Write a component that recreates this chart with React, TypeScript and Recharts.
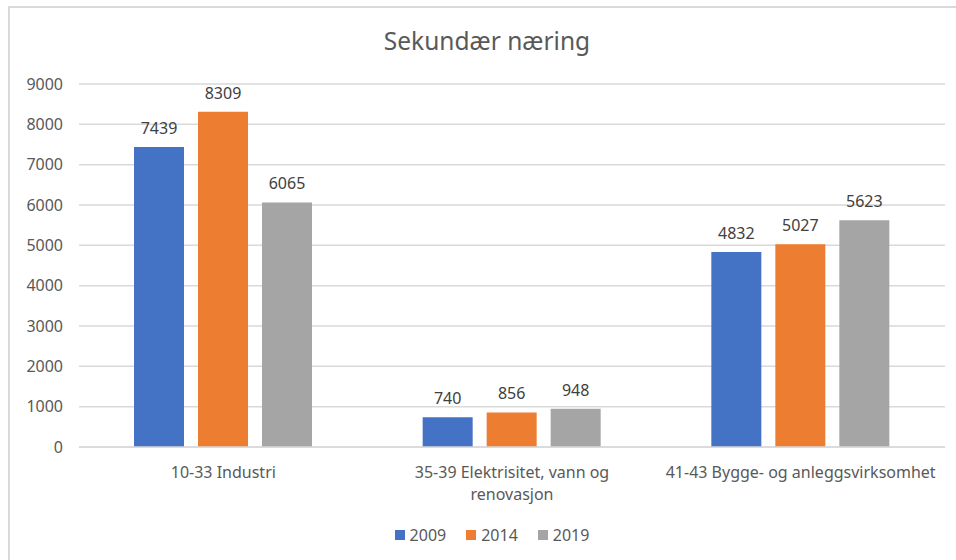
import { BarChart, Bar, XAxis, YAxis, CartesianGrid, LabelList } from 'recharts';

const categories = ['10-33 Industri', '35-39 Elektrisitet, vann og\nrenovasjon', '41-43 Bygge- og anleggsvirksomhet'];
const values2009 = [7439, 740, 4832];
const values2014 = [8309, 856, 5027];
const values2019 = [6065, 948, 5623];
const yTicks = [0, 1000, 2000, 3000, 4000, 5000, 6000, 7000, 8000, 9000];

const seriesList = [
  { key: 'y2009', name: '2009', color: '#4472C4' },
  { key: 'y2014', name: '2014', color: '#ED7D31' },
  { key: 'y2019', name: '2019', color: '#A5A5A5' },
];

const data = categories.map((category, i) => ({
  category,
  y2009: values2009[i],
  y2014: values2014[i],
  y2019: values2019[i],
}));

const FONT = '"Noto Sans", sans-serif';
const TEXT = '#595959';

const CategoryTick = ({ x, y, payload }: { x?: number; y?: number; payload?: { value: string } }) => {
  const lines = String(payload?.value ?? '').split('\n');
  return (
    <text x={x} y={y} textAnchor="middle" fill={TEXT} fontSize={16} fontFamily={FONT}>
      {lines.map((line, i) => (
        <tspan key={i} x={x} dy={i === 0 ? 23 : 22}>
          {line}
        </tspan>
      ))}
    </text>
  );
};

export default function App() {
  return (
    <div style={{ position: 'absolute', left: 0, top: 0, width: 956, height: 560, background: '#fff', fontFamily: FONT }}>
      <div
        style={{
          position: 'absolute',
          left: 8,
          top: 6,
          width: 960,
          height: 570,
          borderLeft: '2px solid #d9d9d9',
          borderTop: '2px solid #d9d9d9',
        }}
      />
      <div
        style={{
          position: 'absolute',
          top: 24,
          left: 0,
          width: 974,
          textAlign: 'center',
          fontSize: 24.5,
          color: TEXT,
        }}
      >
        Sekundær næring
      </div>
      <div style={{ position: 'absolute', left: 0, top: 0 }}>
        <BarChart
          width={956}
          height={520}
          data={data}
          margin={{ top: 84, right: 11, left: 0, bottom: 0 }}
          barSize={50}
          barGap={14}
        >
          <CartesianGrid vertical={false} stroke="#d9d9d9" strokeWidth={1.5} />
          <XAxis
            dataKey="category"
            axisLine={{ stroke: '#d9d9d9', strokeWidth: 1.5 }}
            tickLine={false}
            height={73}
            interval={0}
            tick={<CategoryTick />}
          />
          <YAxis
            domain={[0, 9000]}
            ticks={yTicks}
            axisLine={false}
            tickLine={false}
            tickSize={0}
            tickMargin={16}
            width={79}
            tick={{ fill: TEXT, fontSize: 16, fontFamily: FONT }}
          />
          {seriesList.map((s) => (
            <Bar key={s.key} dataKey={s.key} name={s.name} fill={s.color} isAnimationActive={false}>
              <LabelList dataKey={s.key} position="top" offset={13} fill="#404040" fontSize={16} fontFamily={FONT} />
            </Bar>
          ))}
        </BarChart>
      </div>
      <div
        style={{
          position: 'absolute',
          top: 524,
          left: 0,
          width: 984,
          display: 'flex',
          justifyContent: 'center',
          gap: 20,
          fontSize: 16,
          color: TEXT,
        }}
      >
        {seriesList.map((s) => (
          <div key={s.key} style={{ display: 'flex', alignItems: 'center', gap: 5 }}>
            <span style={{ width: 10, height: 10, background: s.color, display: 'inline-block' }} />
            <span>{s.name}</span>
          </div>
        ))}
      </div>
    </div>
  );
}
